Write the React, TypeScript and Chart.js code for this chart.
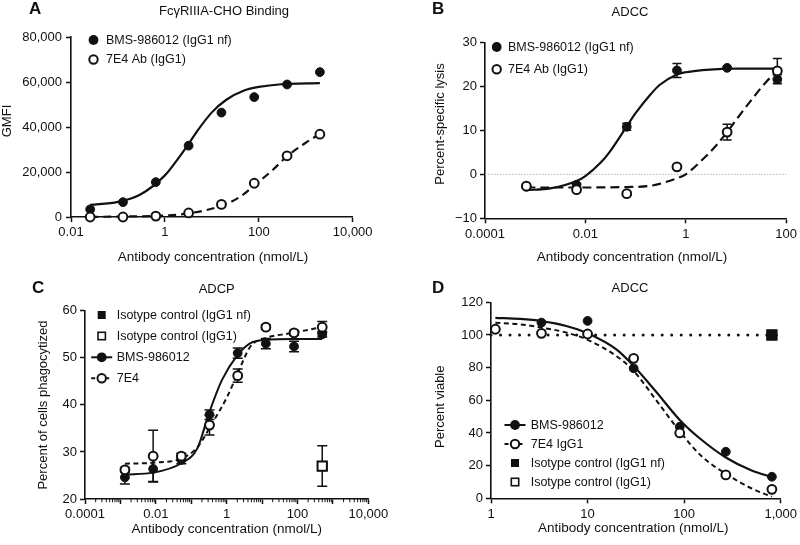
import React, { useEffect, useRef } from "react";
import { Chart, registerables } from "chart.js";

Chart.register(...registerables);

const FONT = "'Liberation Sans', Arial, Helvetica, sans-serif";
const INK = "#111111";

// ---------------- Panel A: FcγRIIIA-CHO Binding ----------------
const aConc = [0.0256, 0.128, 0.64, 3.2, 16, 80, 400, 2000];
const aBms = [3400, 6600, 15500, 31700, 46400, 53300, 58900, 64400];
const a7e4 = [0, 0, 400, 1800, 5600, 15000, 27200, 36800];
const aBmsFitX = [0.0256, 0.1, 0.3, 1, 2, 3.2, 5, 10, 20, 50, 100, 300, 2000];
const aBmsFitY = [5400, 6700, 10000, 18500, 26500, 32500, 38500, 46500, 52000, 56300, 57800, 59000, 59500];
const a7e4FitX = [0.0256, 0.128, 0.64, 3.2, 16, 40, 80, 200, 400, 1000, 2000];
const a7e4FitY = [50, 200, 500, 1600, 5000, 9000, 14000, 21000, 27000, 33000, 37000];
const aXTicks = [0.01, 1, 100, 10000];
const aYTicks = [0, 20000, 40000, 60000, 80000];

// ---------------- Panel B: ADCC (lysis) ----------------
const bConc = [0.000667, 0.00667, 0.0667, 0.667, 6.67, 66.7];
const bBms = [-2.8, -2.4, 10.8, 23.6, 24.2, 21.6];
const bBmsErr = [0.3, 0.3, 0.8, 1.6, 0.3, 1.0];
const b7e4 = [-2.7, -3.5, -4.4, 1.7, 9.6, 23.5];
const b7e4Err = [0.3, 0.5, 0.4, 0.4, 1.8, 2.8];
const bBmsFitX = [0.000667, 0.002, 0.00667, 0.01, 0.02, 0.03, 0.0667, 0.1, 0.2, 0.3, 0.667, 1, 3, 10, 66.7];
const bBmsFitY = [-3.6, -3.2, -1.5, -0.4, 2.6, 5.0, 10.9, 13.9, 18.2, 20.3, 22.7, 23.2, 23.8, 24.0, 24.0];
const b7e4FitX = [0.000667, 0.00667, 0.0667, 0.2, 0.667, 1, 2, 4, 6.67, 10, 20, 40, 66.7];
const b7e4FitY = [-3.0, -3.0, -2.9, -2.6, -0.9, 0.0, 3.0, 6.5, 9.6, 12.3, 16.8, 21.0, 23.5];
const bZeroX = [0.0001, 100];
const bZeroY = [0, 0];
const bXTicks = [0.0001, 0.01, 1, 100];
const bYTicks = [-10, 0, 10, 20, 30];

// ---------------- Panel C: ADCP ----------------
const cConc = [0.00134, 0.0084, 0.0524, 0.328, 2.05, 12.8, 80, 500];
const cBms = [24.6, 26.4, 28.3, 37.9, 51.0, 53.0, 52.4, 55.0];
const cBmsErr = [1.4, 2.7, 0.8, 1.0, 1.1, 1.1, 1.1, 0.6];
const c7e4 = [26.2, 29.1, 29.1, 35.7, 46.2, 56.5, 55.3, 56.5];
const c7e4Err = [0.5, 5.5, 0.6, 2.1, 1.4, 0.5, 0.5, 1.2];
const cIsoConc = [500];
const cIsoNf = [27.0];
const cIsoG1 = [27.0];
const cIsoG1Err = [4.3];
const cBmsFitX = [0.00134, 0.0084, 0.0524, 0.15, 0.31, 0.74, 2.05, 4.7, 12.8, 80, 500];
const cBmsFitY = [25.2, 25.6, 27.6, 30.8, 38.0, 45.3, 50.6, 53.1, 53.8, 54.0, 54.0];
const c7e4FitX = [0.00134, 0.0084, 0.0524, 0.15, 0.39, 1.03, 2.05, 4.7, 11.6, 63, 500];
const c7e4FitY = [27.5, 27.7, 28.6, 31.0, 36.1, 41.7, 46.7, 52.4, 54.1, 55.2, 56.5];
const cXTicks = [0.0001, 0.001, 0.01, 0.1, 1, 10, 100, 1000, 10000];
const cXLabels = [0.0001, 0.01, 1, 100, 10000];
const cYTicks = [20, 30, 40, 50, 60];

// ---------------- Panel D: ADCC (viability) ----------------
const dConc = [1.11, 3.33, 10, 30, 90, 270, 810];
const dBms = [103.5, 107.6, 108.6, 79.6, 43.8, 28.5, 13.2];
const d7e4 = [103.5, 101, 100.6, 85.7, 40, 14.3, 5.5];
const dIsoConc = [810];
const dIsoNf = [100];
const dIsoG1 = [100];
const dIsoLineX = [1, 1000];
const dIsoLineY = [100, 100];
const dFitX = [1.11, 2, 3.33, 6, 10, 20, 30, 50, 90, 150, 270, 500, 810];
const dBmsFitY = [110.5, 109.8, 108.5, 105.5, 101, 91, 81, 66, 48, 36, 25, 17, 13];
const d7e4FitY = [107.5, 106.5, 104.5, 101.5, 97, 87, 78, 61, 41, 26, 15, 6, 1];
const dXTicks = [1, 10, 100, 1000];
const dYTicks = [0, 20, 40, 60, 80, 100, 120];

type Series = {
  x: number[];
  y: number[];
  err?: number[];
  kind: "points" | "line";
  shape?: "circle" | "rect";
  filled?: boolean;
  radius?: number;
  dash?: number[];
  width?: number;
  color?: string;
  cap?: CanvasLineCap;
};

type LegendItem = { icon: "fc" | "oc" | "fs" | "os" | "fcl" | "ocd"; text: string };

type Panel = {
  left: number;
  top: number;
  w: number;
  h: number;
  area: { l: number; t: number; r: number; b: number };
  xMin: number;
  xMax: number;
  xTicks: number[];
  xLabels: number[];
  minor?: boolean;
  yMin: number;
  yMax: number;
  yTicks: number[];
  yPad: number;
  letter: string;
  letterPos: [number, number];
  title: string;
  titlePos: [number, number];
  xTitle: string;
  xTitlePos: [number, number];
  yTitle: string;
  yTitlePos: [number, number];
  legend: LegendItem[];
  legendX: number;
  legendTextX: number;
  legendY: number[];
  capHalf: number;
  series: Series[];
};

const XT = "Antibody concentration (nmol/L)";

const fmt = (v: number) => {
  const s = Math.abs(v).toLocaleString("en-US", { maximumFractionDigits: 6 });
  return v < 0 ? "\u2212" + s : s;
};

const pts = (x: number[], y: number[], filled: boolean, err?: number[], shape: "circle" | "rect" = "circle", radius = 4.4): Series => ({
  x, y, err, kind: "points", filled, shape, radius,
});
const line = (x: number[], y: number[], dash: number[] = [], extra: Partial<Series> = {}): Series => ({
  x, y, kind: "line", dash, width: 2.2, ...extra,
});

const panels: Panel[] = [
  {
    left: 0, top: 0, w: 400, h: 272,
    area: { l: 71, t: 37, r: 352.7, b: 217 },
    xMin: 0.01, xMax: 10000, xTicks: aXTicks, xLabels: aXTicks,
    yMin: 0, yMax: 80000, yTicks: aYTicks, yPad: 4,
    letter: "A", letterPos: [29, 9.5],
    title: "Fc\u03b3RIIIA-CHO Binding", titlePos: [224, 11.7],
    xTitle: XT, xTitlePos: [213, 257],
    yTitle: "GMFI", yTitlePos: [7, 121],
    legend: [
      { icon: "fc", text: "BMS-986012 (IgG1 nf)" },
      { icon: "oc", text: "7E4 Ab (IgG1)" },
    ],
    legendX: 93.5, legendTextX: 106, legendY: [40, 59.5],
    capHalf: 4.5,
    series: [
      pts(aConc, a7e4, false),
      pts(aConc, aBms, true),
      line(a7e4FitX, a7e4FitY, [8, 5]),
      line(aBmsFitX, aBmsFitY),
    ],
  },
  {
    left: 400, top: 0, w: 400, h: 272,
    area: { l: 85, t: 42.3, r: 388.3, b: 218.3 },
    xMin: 0.0001, xMax: 100, xTicks: bXTicks, xLabels: bXTicks,
    yMin: -10, yMax: 30, yTicks: bYTicks, yPad: 3,
    letter: "B", letterPos: [32, 9.5],
    title: "ADCC", titlePos: [230, 12],
    xTitle: XT, xTitlePos: [232, 257],
    yTitle: "Percent-specific lysis", yTitlePos: [40, 124],
    legend: [
      { icon: "fc", text: "BMS-986012 (IgG1 nf)" },
      { icon: "oc", text: "7E4 Ab (IgG1)" },
    ],
    legendX: 96.7, legendTextX: 108, legendY: [47, 69.3],
    capHalf: 4.5,
    series: [
      pts(bConc, b7e4, false, b7e4Err),
      pts(bConc, bBms, true, bBmsErr),
      line(b7e4FitX, b7e4FitY, [9, 5]),
      line(bBmsFitX, bBmsFitY),
      line(bZeroX, bZeroY, [1.5, 1.5], { width: 1, color: "#b5b5b5" }),
    ],
  },
  {
    left: 0, top: 272, w: 400, h: 273,
    area: { l: 85, t: 38.7, r: 368.3, b: 227 },
    xMin: 0.0001, xMax: 10000, xTicks: cXTicks, xLabels: cXLabels, minor: true,
    yMin: 20, yMax: 60, yTicks: cYTicks, yPad: 3,
    letter: "C", letterPos: [32, 16.3],
    title: "ADCP", titlePos: [216.7, 17.3],
    xTitle: XT, xTitlePos: [226.7, 257],
    yTitle: "Percent of cells phagocytized", yTitlePos: [43.3, 133],
    legend: [
      { icon: "fs", text: "Isotype control (IgG1 nf)" },
      { icon: "os", text: "Isotype control (IgG1)" },
      { icon: "fcl", text: "BMS-986012" },
      { icon: "ocd", text: "7E4" },
    ],
    legendX: 101.7, legendTextX: 116.7, legendY: [43, 64, 85.3, 106.3],
    capHalf: 5,
    series: [
      pts(cIsoConc, cIsoG1, false, cIsoG1Err, "rect", 6.6),
      pts(cIsoConc, cIsoNf, true, undefined, "rect", 6.6),
      pts(cConc, c7e4, false, c7e4Err),
      pts(cConc, cBms, true, cBmsErr),
      line(c7e4FitX, c7e4FitY, [5, 3.5], { width: 2 }),
      line(cBmsFitX, cBmsFitY, [], { width: 2 }),
    ],
  },
  {
    left: 400, top: 272, w: 400, h: 273,
    area: { l: 91, t: 30.3, r: 381.7, b: 226.3 },
    xMin: 1, xMax: 1000, xTicks: dXTicks, xLabels: dXTicks,
    yMin: 0, yMax: 120, yTicks: dYTicks, yPad: 3,
    letter: "D", letterPos: [32, 16.3],
    title: "ADCC", titlePos: [230, 16.3],
    xTitle: XT, xTitlePos: [233.3, 256],
    yTitle: "Percent viable", yTitlePos: [40, 134.7],
    legend: [
      { icon: "fcl", text: "BMS-986012" },
      { icon: "ocd", text: "7E4 IgG1" },
      { icon: "fs", text: "Isotype control (IgG1 nf)" },
      { icon: "os", text: "Isotype control (IgG1)" },
    ],
    legendX: 115, legendTextX: 130.7, legendY: [153, 172, 191, 210],
    capHalf: 5,
    series: [
      pts(dIsoConc, dIsoNf, true, undefined, "rect", 6.6),
      pts(dIsoConc, dIsoG1, false, undefined, "rect", 6.6),
      pts(dConc, d7e4, false),
      pts(dConc, dBms, true),
      line(dFitX, d7e4FitY, [5, 3.5], { width: 2 }),
      line(dFitX, dBmsFitY, [], { width: 2.2 }),
      line(dIsoLineX, dIsoLineY, [0.01, 9.5], { width: 3, cap: "round" }),
    ],
  },
];

function drawIcon(ctx: CanvasRenderingContext2D, icon: LegendItem["icon"], x: number, y: number) {
  ctx.save();
  ctx.strokeStyle = INK;
  ctx.fillStyle = INK;
  if (icon === "fcl" || icon === "ocd") {
    ctx.lineWidth = 2;
    ctx.setLineDash(icon === "ocd" ? [4, 3] : []);
    ctx.beginPath();
    ctx.moveTo(x - 10.5, y);
    ctx.lineTo(x + 10.5, y);
    ctx.stroke();
    ctx.setLineDash([]);
  }
  if (icon === "fc" || icon === "fcl") {
    ctx.beginPath();
    ctx.arc(x, y, 4.9, 0, Math.PI * 2);
    ctx.fill();
  } else if (icon === "oc" || icon === "ocd") {
    ctx.beginPath();
    ctx.arc(x, y, 4.2, 0, Math.PI * 2);
    ctx.fillStyle = "#fff";
    ctx.fill();
    ctx.lineWidth = 2;
    ctx.stroke();
  } else if (icon === "fs") {
    ctx.fillRect(x - 4, y - 4, 8, 8);
  } else if (icon === "os") {
    ctx.lineWidth = 1.6;
    ctx.strokeRect(x - 3.7, y - 3.7, 7.4, 7.4);
  }
  ctx.restore();
}

function decor(p: Panel) {
  return {
    id: "decor" + p.letter,
    beforeDatasetsDraw(chart: any) {
      const ctx: CanvasRenderingContext2D = chart.ctx;
      const ys = chart.scales.y;
      chart.data.datasets.forEach((ds: any, i: number) => {
        if (!ds.errors) return;
        const meta = chart.getDatasetMeta(i);
        ctx.save();
        ctx.strokeStyle = INK;
        ctx.lineWidth = 1.5;
        meta.data.forEach((pt: any, j: number) => {
          const e = ds.errors[j];
          if (!e) return;
          const v = ds.data[j].y;
          const t = ys.getPixelForValue(v + e);
          const b = ys.getPixelForValue(v - e);
          ctx.beginPath();
          ctx.moveTo(pt.x, t);
          ctx.lineTo(pt.x, b);
          ctx.moveTo(pt.x - p.capHalf, t);
          ctx.lineTo(pt.x + p.capHalf, t);
          ctx.moveTo(pt.x - p.capHalf, b);
          ctx.lineTo(pt.x + p.capHalf, b);
          ctx.stroke();
        });
        ctx.restore();
      });
    },
    afterDraw(chart: any) {
      const ctx: CanvasRenderingContext2D = chart.ctx;
      const xs = chart.scales.x;
      const bottom = chart.chartArea.bottom;
      ctx.save();
      if (p.minor) {
        ctx.strokeStyle = INK;
        ctx.lineWidth = 1;
        const e0 = Math.round(Math.log10(p.xMin));
        const e1 = Math.round(Math.log10(p.xMax));
        for (let e = e0; e < e1; e++) {
          for (let m = 2; m <= 9; m++) {
            const px = xs.getPixelForValue(m * Math.pow(10, e));
            ctx.beginPath();
            ctx.moveTo(px, bottom);
            ctx.lineTo(px, bottom + 3.2);
            ctx.stroke();
          }
        }
      }
      ctx.fillStyle = INK;
      ctx.textBaseline = "middle";
      // panel letter
      ctx.font = `bold 17px ${FONT}`;
      ctx.textAlign = "left";
      ctx.fillText(p.letter, p.letterPos[0], p.letterPos[1]);
      // title
      ctx.font = `13px ${FONT}`;
      ctx.textAlign = "center";
      ctx.fillText(p.title, p.titlePos[0], p.titlePos[1]);
      // x title
      ctx.font = `13.5px ${FONT}`;
      ctx.fillText(p.xTitle, p.xTitlePos[0], p.xTitlePos[1]);
      // y title
      ctx.font = `13px ${FONT}`;
      ctx.save();
      ctx.translate(p.yTitlePos[0], p.yTitlePos[1]);
      ctx.rotate(-Math.PI / 2);
      ctx.fillText(p.yTitle, 0, 0);
      ctx.restore();
      // legend
      p.legend.forEach((it, i) => {
        const y = p.legendY[i];
        drawIcon(ctx, it.icon, p.legendX, y);
        ctx.fillStyle = INK;
        ctx.font = `12.5px ${FONT}`;
        ctx.textAlign = "left";
        ctx.textBaseline = "middle";
        ctx.fillText(it.text, p.legendTextX, y + 0.5);
      });
      ctx.restore();
    },
  };
}

function buildConfig(p: Panel): any {
  const labelSet = new Set(p.xLabels);
  const datasets = p.series.map((s) => ({
    type: "line",
    data: s.x.map((x, i) => ({ x, y: s.y[i] })),
    showLine: s.kind === "line",
    borderColor: s.color ?? INK,
    borderWidth: s.width ?? 2,
    borderDash: s.dash ?? [],
    borderCapStyle: s.cap ?? "butt",
    cubicInterpolationMode: "monotone",
    pointRadius: s.kind === "line" ? 0 : s.radius ?? 4.4,
    pointHoverRadius: s.kind === "line" ? 0 : s.radius ?? 4.4,
    pointStyle: s.shape ?? "circle",
    pointBackgroundColor: s.filled ? INK : "#ffffff",
    pointBorderColor: INK,
    pointBorderWidth: s.filled ? 1 : 2,
    clip: false,
    errors: s.err,
  }));
  const tickFont = { family: FONT, size: 13 };
  return {
    type: "line",
    data: { datasets },
    options: {
      animation: false,
      responsive: false,
      maintainAspectRatio: false,
      devicePixelRatio: 1,
      events: [],
      layout: {
        padding: { left: 0, bottom: 0, top: p.area.t, right: p.w - p.area.r },
      },
      plugins: { legend: { display: false }, title: { display: false }, tooltip: { enabled: false } },
      scales: {
        x: {
          type: "logarithmic",
          min: p.xMin,
          max: p.xMax,
          afterBuildTicks: (s: any) => {
            s.ticks = p.xTicks.map((v) => ({ value: v }));
          },
          afterFit: (s: any) => {
            s.height = p.h - p.area.b;
          },
          ticks: {
            autoSkip: false,
            maxRotation: 0,
            minRotation: 0,
            color: INK,
            font: tickFont,
            padding: 3,
            callback: (v: number) => (labelSet.has(v) ? fmt(v) : ""),
          },
          grid: { drawOnChartArea: false, drawTicks: true, tickLength: 5, tickWidth: 1.5, tickColor: INK },
          border: { display: true, color: INK, width: 1.6 },
        },
        y: {
          type: "linear",
          min: p.yMin,
          max: p.yMax,
          afterBuildTicks: (s: any) => {
            s.ticks = p.yTicks.map((v) => ({ value: v }));
          },
          afterFit: (s: any) => {
            s.width = p.area.l;
          },
          ticks: {
            autoSkip: false,
            color: INK,
            font: tickFont,
            padding: p.yPad,
            callback: (v: number) => fmt(v),
          },
          grid: { drawOnChartArea: false, drawTicks: true, tickLength: 5, tickWidth: 1.5, tickColor: INK },
          border: { display: true, color: INK, width: 1.6 },
        },
      },
    },
    plugins: [decor(p)],
  };
}

function PanelChart({ p }: { p: Panel }) {
  const ref = useRef<HTMLCanvasElement | null>(null);
  useEffect(() => {
    if (!ref.current) return;
    const chart = new Chart(ref.current, buildConfig(p));
    return () => chart.destroy();
  }, [p]);
  return (
    <canvas
      ref={ref}
      width={p.w}
      height={p.h}
      style={{ position: "absolute", left: p.left, top: p.top, width: p.w, height: p.h }}
    />
  );
}

export default function App() {
  return (
    <div style={{ position: "absolute", left: 0, top: 0, width: 800, height: 545, background: "#fff" }}>
      {panels.map((p) => (
        <PanelChart key={p.letter} p={p} />
      ))}
    </div>
  );
}
